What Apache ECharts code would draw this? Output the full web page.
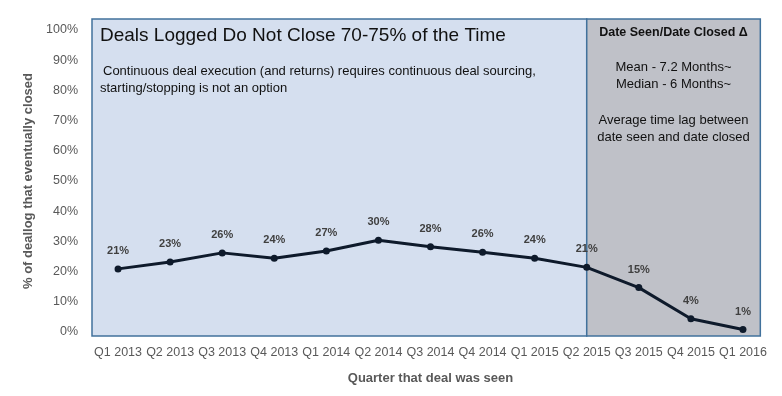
<!DOCTYPE html>
<html>
<head>
<meta charset="utf-8">
<script src="https://cdn.jsdelivr.net/npm/echarts@6/dist/echarts.min.js"></script>
<style>
  html, body { margin: 0; padding: 0; background: #fff; }
  #chart { width: 782px; height: 396px; }
</style>
</head>
<body>
<div id="chart"></div>
<script>
// quarters the deals were seen
var categories = ['Q1 2013', 'Q2 2013', 'Q3 2013', 'Q4 2013', 'Q1 2014', 'Q2 2014', 'Q3 2014',
  'Q4 2014', 'Q1 2015', 'Q2 2015', 'Q3 2015', 'Q4 2015', 'Q1 2016'];
// % of deallog that eventually closed
var closedPct = [20.9, 23.2, 26.2, 24.4, 26.8, 30.4, 28.2, 26.4, 24.4, 21.4, 14.7, 4.4, 0.8];
// where the grey "time lag" box starts
var lagStart = 'Q2 2015';

var font = 'Liberation Sans';
var labelGrey = '#595959';

var chart = echarts.init(document.getElementById('chart'));

chart.setOption({
  animation: false,
  grid: {
    left: 92,
    right: 13,
    top: 30,
    bottom: 64
  },
  xAxis: {
    type: 'category',
    data: categories,
    boundaryGap: true,
    axisLine: { show: false },
    axisTick: { show: false },
    axisLabel: { color: labelGrey, fontFamily: font, fontSize: 12.5, margin: 14, interval: 0 },
    name: 'Quarter that deal was seen',
    nameLocation: 'middle',
    nameGap: 40,
    nameTextStyle: { color: labelGrey, fontFamily: font, fontSize: 13, fontWeight: 'bold' }
  },
  yAxis: {
    type: 'value',
    min: 0,
    max: 100,
    interval: 10,
    splitLine: { show: false },
    axisLine: { show: false },
    axisTick: { show: false },
    axisLabel: { color: labelGrey, fontFamily: font, fontSize: 12.5, margin: 14, formatter: '{value}%' },
    name: '% of deallog that eventually closed',
    nameLocation: 'middle',
    nameGap: 57,
    nameTextStyle: { color: labelGrey, fontFamily: font, fontSize: 13, fontWeight: 'bold' }
  },
  series: [{
    type: 'line',
    data: closedPct,
    z: 5,
    symbol: 'circle',
    symbolSize: 7,
    lineStyle: { color: '#0e1a2b', width: 3 },
    itemStyle: { color: '#0e1a2b' },
    label: {
      show: true,
      position: 'top',
      distance: 9,
      color: '#404040',
      fontFamily: font,
      fontSize: 11,
      fontWeight: 'bold',
      formatter: function (p) {
        return Math.round(p.value) + '%';
      }
    }
  }]
});

// boxes placed from the axis scales
(function () {
  var px0 = chart.convertToPixel({ xAxisIndex: 0 }, categories[0]);
  var px1 = chart.convertToPixel({ xAxisIndex: 0 }, categories[1]);
  var band = px1 - px0;
  var boxLeft = px0 - band / 2;
  var split = chart.convertToPixel({ xAxisIndex: 0 }, lagStart);
  var lastX = chart.convertToPixel({ xAxisIndex: 0 }, categories[categories.length - 1]);
  var boxRight = lastX + band / 3;
  var boxTop = chart.convertToPixel({ yAxisIndex: 0 }, 100) - 11;
  var boxBottom = chart.convertToPixel({ yAxisIndex: 0 }, 0) + 4;
  var border = '#41719c';
  var mid = (split + boxRight) / 2;

  function txt(x, y, s, size, bold, align) {
    return {
      type: 'text',
      x: x,
      y: y,
      z: 1,
      style: {
        text: s,
        fill: '#111',
        font: (bold ? 'bold ' : '') + size + 'px "' + font + '"',
        align: align || 'left',
        verticalAlign: 'middle'
      }
    };
  }

  chart.setOption({
    graphic: [
      {
        type: 'rect', z: 0,
        shape: { x: boxLeft, y: boxTop, width: split - boxLeft, height: boxBottom - boxTop },
        style: { fill: '#d5dfef', stroke: border, lineWidth: 1.5 }
      },
      {
        type: 'rect', z: 0,
        shape: { x: split, y: boxTop, width: boxRight - split, height: boxBottom - boxTop },
        style: { fill: '#bfc1c8', stroke: border, lineWidth: 1.5 }
      },
      txt(boxLeft + 8, boxTop + 17, 'Deals Logged Do Not Close 70-75% of the Time', 19, false),
      txt(boxLeft + 11, boxTop + 52, 'Continuous deal execution (and returns) requires continuous deal sourcing,', 13, false),
      txt(boxLeft + 8, boxTop + 69, 'starting/stopping is not an option', 13, false),
      txt(mid, boxTop + 14, 'Date Seen/Date Closed \u0394', 12.5, true, 'center'),
      txt(mid, boxTop + 48, 'Mean - 7.2 Months~', 13, false, 'center'),
      txt(mid, boxTop + 65, 'Median - 6 Months~', 13, false, 'center'),
      txt(mid, boxTop + 101, 'Average time lag between', 13, false, 'center'),
      txt(mid, boxTop + 118, 'date seen and date closed', 13, false, 'center')
    ]
  });
})();
</script>
</body>
</html>
